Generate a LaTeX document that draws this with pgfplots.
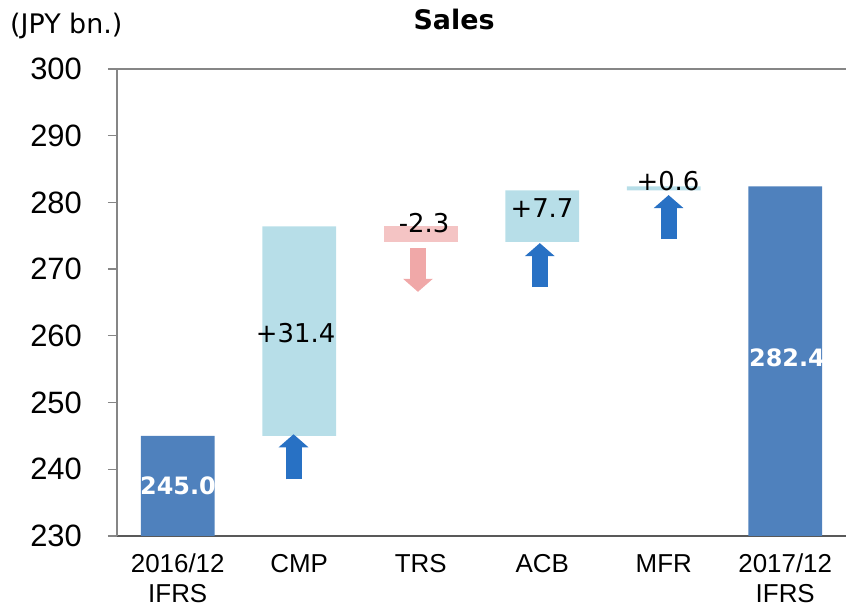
\documentclass[border=0pt]{standalone}
\usepackage{fontspec}
\setmainfont{Liberation Sans}
\newfontfamily\dvfont{DejaVu Sans}
\usepackage{pgfplots}
\usepackage{pgfplotstable}
\pgfplotsset{compat=1.18}
\usetikzlibrary{arrows.meta}

\definecolor{totcol}{RGB}{79,129,189}
\definecolor{upcol}{RGB}{183,222,232}
\definecolor{downcol}{RGB}{244,196,196}
\definecolor{uparrow}{RGB}{40,113,196}
\definecolor{downarrow}{RGB}{240,168,168}
\definecolor{axgray}{RGB}{134,134,134}
\definecolor{axdark}{RGB}{89,89,89}

% waterfall: invisible base + visible step
\pgfplotstableread{
x base total up down
0 0     245.0 0    0
1 245.0 0     31.4 0
2 274.1 0     0    2.3
3 274.1 0     7.7  0
4 281.8 0     0.6  0
5 0     282.4 0    0
}\bars

% arrows: tail (x,y) and length v
\pgfplotstableread{
x y u v
0.953 238.5 0 6.75
2.980 267.3 0 6.6
4.040 274.5 0 6.6
}\uparrows
\pgfplotstableread{
x y u v
1.977 273.1 0 -6.5
}\downarrows

\begin{document}
\begin{tikzpicture}
\useasboundingbox (-117bp,-71bp) rectangle (729bp,536bp);
\begin{axis}[
    at={(0,0)}, anchor=south west,
    scale only axis, width=729bp, height=467bp,
    xmin=-0.5, xmax=5.5, ymin=230, ymax=300,
    ybar stacked, bar width=0.609,
    axis x line*=bottom, axis y line*=left,
    x axis line style={-, draw=axdark, line width=1.8bp},
    y axis line style={-, draw=axgray, line width=1.3bp},
    xtick={0,...,5},
    xticklabels={{2016/12\\IFRS},CMP,TRS,ACB,MFR,{2017/12\\IFRS}},
    xtick style={draw=none},
    xticklabel style={align=center, inner sep=0pt, anchor=north, yshift=-18bp,
        font=\fontsize{26}{29.5}\selectfont},
    ytick={230,240,...,300},
    ytick align=outside, major tick length=9bp,
    ytick style={draw=axgray, line width=1.3bp},
    yticklabel style={anchor=east, inner sep=0pt, xshift=-26bp,
        font=\fontsize{31}{36}\selectfont},
    /pgf/number format/assume math mode=true,
    title={Sales},
    title style={at={(axis description cs:0.4623,1)}, anchor=base, inner sep=0pt,
        yshift=34bp, font=\dvfont\bfseries\fontsize{27}{32}\selectfont},
]
\addplot[fill=none, draw=none] table[x=x, y=base] {\bars};
\addplot[fill=totcol, draw=none] table[x=x, y=total] {\bars};
\addplot[fill=upcol, draw=none] table[x=x, y=up] {\bars};
\addplot[fill=downcol, draw=none] table[x=x, y=down] {\bars};
\end{axis}

\begin{axis}[
    at={(0,0)}, anchor=south west,
    scale only axis, width=729bp, height=467bp,
    xmin=-0.5, xmax=5.5, ymin=230, ymax=300,
    axis x line*=top, axis y line=none,
    x axis line style={-, draw=axgray, line width=1.3bp},
    xtick=\empty, ytick=\empty,
    clip=false,
]
\addplot[uparrow, line width=16bp, quiver={u=\thisrow{u}, v=\thisrow{v}},
    -{Triangle[width=29bp, length=13bp]}] table {\uparrows};
\addplot[downarrow, line width=16bp, quiver={u=\thisrow{u}, v=\thisrow{v}},
    -{Triangle[width=29bp, length=13bp]}] table {\downarrows};

\node[anchor=base west, inner sep=0pt, font=\dvfont\fontsize{27}{31}\selectfont]
    at (axis description cs:-0.1468,1) [yshift=36bp] {(JPY bn.)};

\begin{scope}[every node/.style={inner sep=0pt, anchor=center,
        font=\dvfont\fontsize{26}{30}\selectfont}]
\node at (axis cs:0.97,260.4) {+31.4};
\node at (axis cs:2.027,276.9) {-2.3};
\node at (axis cs:2.998,279.15) {+7.7};
\node at (axis cs:4.035,283.2) {+0.6};
\end{scope}
\begin{scope}[every node/.style={inner sep=0pt, anchor=center, text=white,
        font=\dvfont\bfseries\fontsize{24}{28}\selectfont}]
\node at (axis cs:0.002,237.6) {245.0};
\node at (axis cs:5.014,256.7) {282.4};
\end{scope}
\end{axis}
\end{tikzpicture}
\end{document}
